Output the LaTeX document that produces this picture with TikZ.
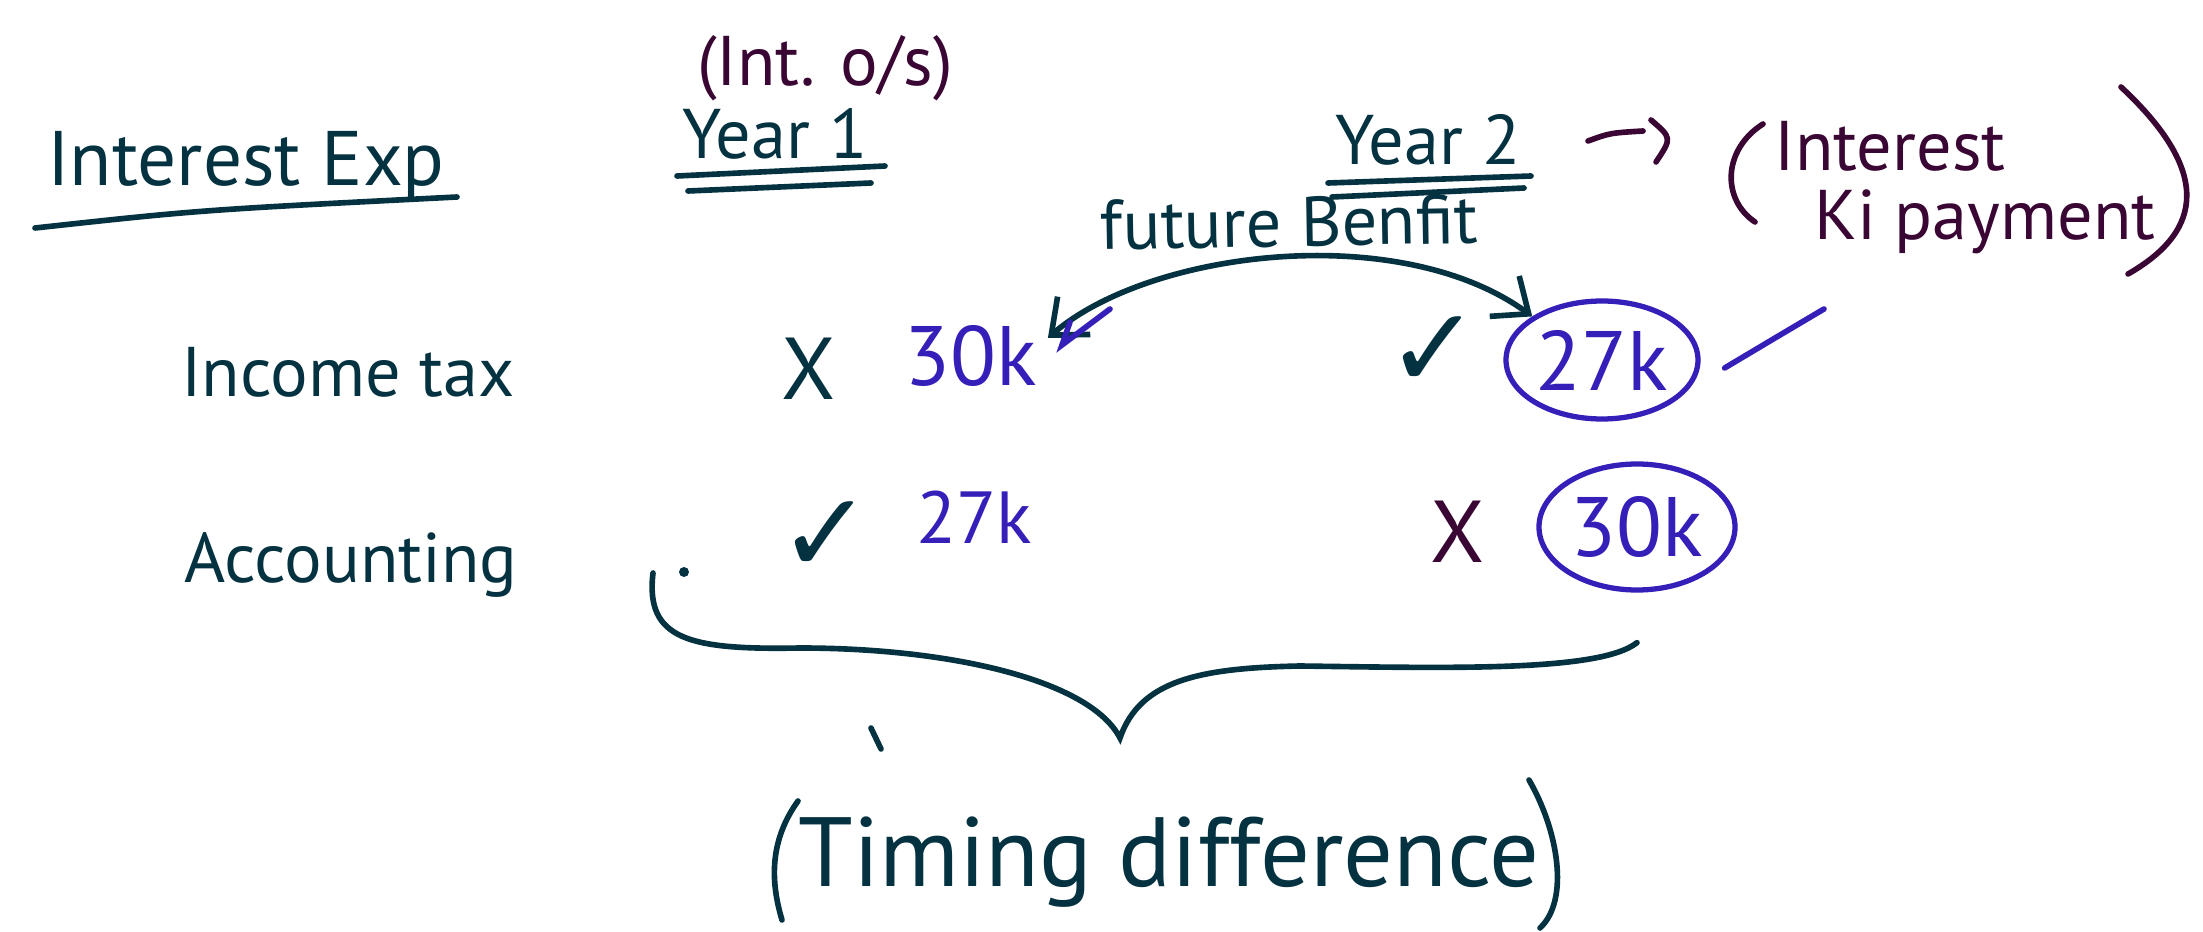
\documentclass[tikz,border=0pt]{standalone}
\usepackage{fontspec}
\setmainfont{PT Sans}
\newfontfamily\symfont{DejaVu Sans}
\definecolor{inkteal}{RGB}{4,50,64}
\definecolor{inkplum}{RGB}{58,6,52}
\definecolor{inkblue}{RGB}{52,32,184}
\usetikzlibrary{arrows.meta,shapes.geometric}
\tikzset{
  hand/.style={font=\fontsize{20}{24}\selectfont, text=inkteal, inner sep=0pt},
  plumtext/.style={hand, text=inkplum},
  bluetext/.style={hand, text=inkblue, font=\fontsize{24}{28}\selectfont},
  ring/.style={bluetext, draw=inkblue, ellipse, line width=1.5pt, minimum width=19.2mm, minimum height=11.8mm},
  tickmark/.style={hand, font=\symfont\fontsize{32}{36}\selectfont},
  crossmark/.style={hand, font=\fontsize{25}{28}\selectfont},
  pen/.style={draw=inkteal, line width=1.6pt, line cap=round},
  plumpen/.style={pen, draw=inkplum},
  bluepen/.style={pen, draw=inkblue}
}
\begin{document}
\begin{tikzpicture}[x=0.1mm, y=-0.1mm]
  \useasboundingbox[fill=white] (0,0) rectangle (2203,932);
  \node[hand, font=\fontsize{22}{26}\selectfont] (intexp) at (246,166) {Interest Exp};
  \node[plumtext] (intos) at (825,68) {(Int. o/s)};
  \node[hand] (year1) at (775,134) {Year 1};
  \node[hand] (year2) at (1428,140) {Year 2};
  \node[hand, rotate=1] (benefit) at (1289,222) {future Benfit};
  \node[plumtext] (interest) at (1890,146) {Interest};
  \node[plumtext] (kipay) at (1985,222) {Ki payment};
  \node[hand] (inctax) at (348,372) {Income tax};
  \node[crossmark] (cross1) at (809,369) {X};
  \node[bluetext] (v30a) at (971,356) {30k};
  \node[tickmark] (tick1) at (1434,352) {✓};
  \node[ring] (v27a) at (1602,360) {27k};
  \node[hand] (acct) at (351,565) {Accounting};
  \node[tickmark] (tick2) at (826,537) {✓};
  \node[bluetext, font=\fontsize{21}{24}\selectfont] (v27b) at (974,517) {27k};
  \node[crossmark, text=inkplum] (cross2) at (1458,532) {X};
  \node[ring, minimum width=19.6mm, minimum height=12.6mm] (v30b) at (1637,527) {30k};
  \node[hand, font=\fontsize{28}{32}\selectfont] (timing) at (1169,862) {Timing difference};
  \draw[pen] (35,228) .. controls (200,210) .. (457,197);
  \draw[pen] (677,176) -- (885,166) (688,191) -- (871,183);
  \draw[pen] (1328,183) -- (1531,176) (1332,197) -- (1524,188);
  \coordinate (hook) at (1643,131);
  \draw[plumpen] (1588,141) .. controls (1610,133) .. (hook);
  \draw[plumpen] (1651,120) .. controls (1672,138) .. (1656,162);
  \draw[plumpen] (1763,124) .. controls (1722,150) and (1722,200) .. (1755,222);
  \draw[plumpen] (2121,87) .. controls (2210,170) and (2205,230) .. (2128,274);
  \draw[pen, {Straight Barb[length=3mm, width=5mm]}-{Straight Barb[length=3mm, width=5mm]}]
    ([shift={(10,-18)}]v30a.east) .. controls (1150,250) and (1400,220) .. (v27a.north west);
  \draw[bluepen] (1110,309) -- (1062,345) -- (1070,322);
  \draw[bluepen] ([xshift=2.4mm, yshift=-0.8mm]v27a.east) .. controls (1780,335) .. (1824,309);
  \fill[inkteal] (684,572) circle[radius=0.5mm];
  \coordinate (bl) at (653,573);
  \coordinate (btip) at (1120,738);
  \coordinate (br) at (v30b.south);
  \draw[pen] (bl) .. controls (645,640) and (690,650) .. (800,648)
    .. controls (950,648) and (1090,680) .. (btip)
    .. controls (1140,680) and (1200,668) .. (1300,666)
    .. controls (1450,668) and (1600,672) .. ([yshift=-5mm]br);
  \draw[pen] (871,728) -- (881,749);
  \draw[pen] (798,801) .. controls (770,840) and (770,880) .. (782,920);
  \draw[pen] (1529,780) .. controls (1558,830) and (1570,900) .. (1540,928);
\end{tikzpicture}
\end{document}
